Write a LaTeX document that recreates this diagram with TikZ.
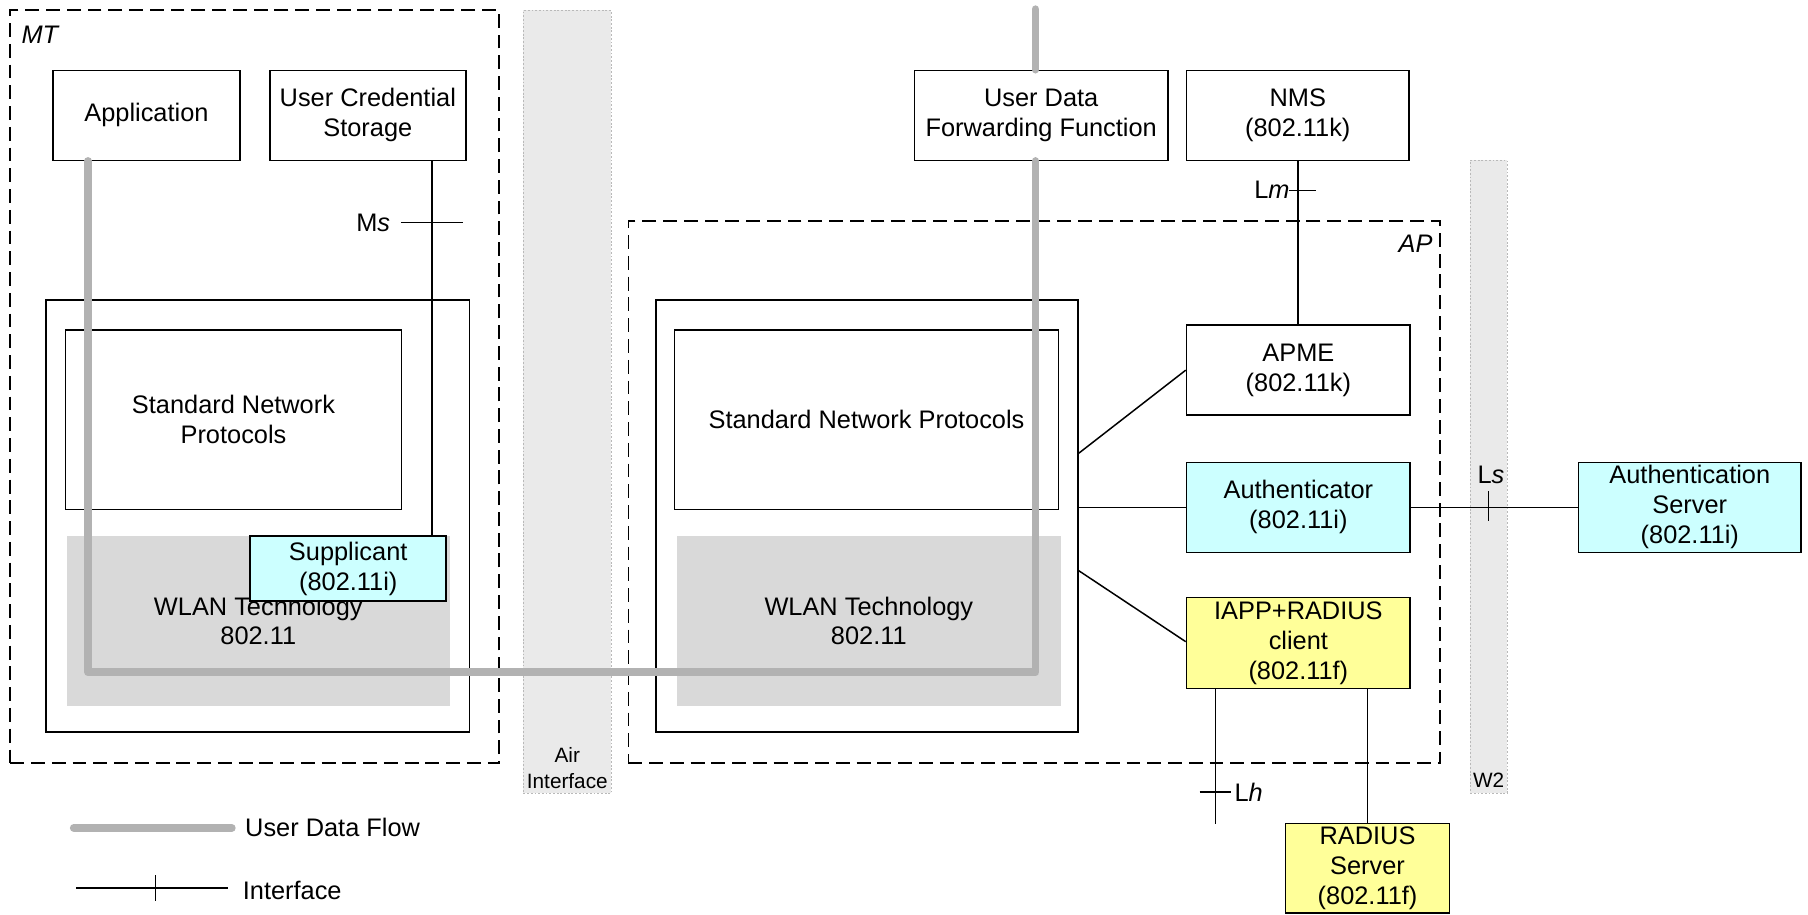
\documentclass[tikz,border=0pt]{standalone}
\usepackage{fontspec}
\setmainfont{Liberation Sans}
\usetikzlibrary{calc}
\definecolor{flowgray}{RGB}{178,178,178}
\definecolor{wlangray}{RGB}{217,217,217}
\definecolor{lcyan}{RGB}{204,255,255}
\definecolor{lyellow}{RGB}{255,255,153}
\definecolor{stripefill}{RGB}{234,234,234}
\begin{document}
\begin{tikzpicture}[x=0.5pt,y=-0.5pt, line width=0.65pt,
  font=\fontsize{11}{13}\selectfont,
  sz/.style 2 args={minimum width=#1*0.5pt, minimum height=#2*0.5pt},
  box/.style={draw, fill=white, inner sep=0pt, align=center},
  cyanbox/.style={box, fill=lcyan},
  yellowbox/.style={box, fill=lyellow},
  wlanbox/.style={fill=wlangray, inner sep=0pt, align=center},
  dashbox/.style={draw, line width=0.8pt, dash pattern=on 6pt off 3pt, inner sep=0pt},
  stripebox/.style={fill=stripefill, draw=gray!55, dash pattern=on 0.8pt off 0.8pt, line width=0.4pt, inner sep=0pt},
  flow/.style={draw=flowgray, line width=3.4pt, line cap=round, line join=round},
  lbl/.style={inner sep=0pt},
  small/.style={font=\fontsize{9}{11}\selectfont, align=center, inner sep=0pt}
]
\useasboundingbox (0,0) rectangle (1568,793);

% stripes
\node[stripebox, sz={76}{679}] (air) at (492,348.5) {};
\node[stripebox, sz={32}{549}] (w2) at (1291,413.5) {};
\node[small] (airtxt) at (492,666) {Air\\Interface};
\node[small] (w2txt) at (1291,677) {W2};

% dashed domains
\node[dashbox, sz={424}{653}] (mt) at (221,335.5) {};
\node[dashbox, sz={704}{470}] (ap) at (897,427) {};
\node[lbl, anchor=west] (mtlabel) at (18,30) {\textit{MT}};
\node[lbl, anchor=east] (aplabel) at (1243,211) {\textit{AP}};

% MT stack
\node[box, sz={367}{375}] (mtstack) at (223.5,447.5) {};
\node[box, sz={291}{156}] (mtsnp) at (202.5,364) {Standard Network\\Protocols};
\node[wlanbox, sz={332}{147}] (mtwlan) at (224,538.5) {WLAN Technology\\802.11};

% AP stack
\node[box, sz={366}{375}] (apstack) at (752,447.5) {};
\node[box, sz={333}{156}] (apsnp) at (751.5,364) {Standard Network Protocols};
\node[wlanbox, sz={333}{147}] (apwlan) at (753.5,538.5) {WLAN Technology\\802.11};

% top boxes
\node[box, sz={162}{78}] (app) at (127,100) {Application};
\node[box, sz={170}{78}] (ucs) at (319,100) {User Credential\\Storage};
\node[box, sz={220}{78}] (udff) at (903,100) {User Data\\Forwarding Function};
\node[box, sz={193}{78}] (nms) at (1125.5,100) {NMS\\(802.11k)};

% user data flow
\coordinate (flowy) at (0,583);
\coordinate (ftop) at (898,8);
\coordinate (f1) at ($(app.south west)+(31,0)$);
\coordinate (f4) at (ftop |- udff.south);
\draw[flow] (f1) -- (f1 |- flowy) -- (f4 |- flowy) -- (f4);
\draw[flow] (ftop) -- (ftop |- udff.north);

% supplicant
\node[cyanbox, sz={170}{56}] (supp) at (302,493) {Supplicant\\(802.11i)};

% AP side boxes
\node[box, sz={194}{78}] (apme) at (1126,321) {APME\\(802.11k)};
\node[cyanbox, sz={194}{78}] (auth) at (1126,440) {Authenticator\\(802.11i)};
\node[cyanbox, sz={193}{78}] (authsrv) at (1465.5,440) {Authentication\\Server\\(802.11i)};
\node[yellowbox, sz={194}{79}] (iapp) at (1126,557.5) {IAPP+RADIUS\\client\\(802.11f)};
\node[yellowbox, sz={142}{78}] (radius) at (1186,753) {RADIUS\\Server\\(802.11f)};

% Ms interface
\coordinate (ms) at ($(ucs.south east)+(-30,0)$);
\draw (ms) -- (ms |- supp.north);
\coordinate (mstick) at (ms |- 0,193);
\draw ($(mstick)+(-27,0)$) -- ($(mstick)+(27,0)$);
\node[lbl, anchor=east] (mslbl) at (339,193) {M\textit{s}};

% Lm interface
\draw (nms.south) -- (nms.south |- apme.north);
\coordinate (lmtick) at (nms.south |- 0,165);
\draw ($(lmtick)+(-8,0)$) -- ($(lmtick)+(16,0)$);
\node[lbl, anchor=east] (lmlbl) at (1119,165) {L\textit{m}};

% Ls interface
\draw (auth.east) -- (authsrv.west);
\coordinate (lstick) at (1291,439);
\draw ($(lstick)+(0,-13)$) -- ($(lstick)+(0,13)$);
\node[lbl] (lslbl) at (1293,412) {L\textit{s}};

% AP internal connectors
\draw ($(apstack.east)+(0,-54.5)$) -- (apme.west);
\draw (auth.west -| apstack.east) -- (auth.west);
\draw ($(apstack.east)+(0,47.5)$) -- ($(iapp.west)+(0,-1)$);

% Lh interface
\coordinate (lh) at ($(iapp.south west)+(26,0)$);
\coordinate (lhend) at ($(lh)+(0,117)$);
\draw (lh) -- (lhend);
\coordinate (lhtick) at (lh |- 0,687);
\draw ($(lhtick)+(-14,0)$) -- ($(lhtick)+(13,0)$);
\node[lbl, anchor=west] (lhlbl) at (1070,687) {L\textit{h}};

% RADIUS link
\draw (iapp.south -| radius.north) -- (radius.north);

% legend
\coordinate (lg1a) at (64,718);
\coordinate (lg1b) at (201,718);
\draw[flow] (lg1a) -- (lg1b);
\node[lbl, anchor=west] (lg1) at (212,718) {User Data Flow};
\coordinate (lg2a) at (66,770);
\coordinate (lg2b) at (198,770);
\draw (lg2a) -- (lg2b);
\draw (135,759) -- (135,781);
\node[lbl, anchor=west] (lg2) at (210,772) {Interface};
\end{tikzpicture}
\end{document}
